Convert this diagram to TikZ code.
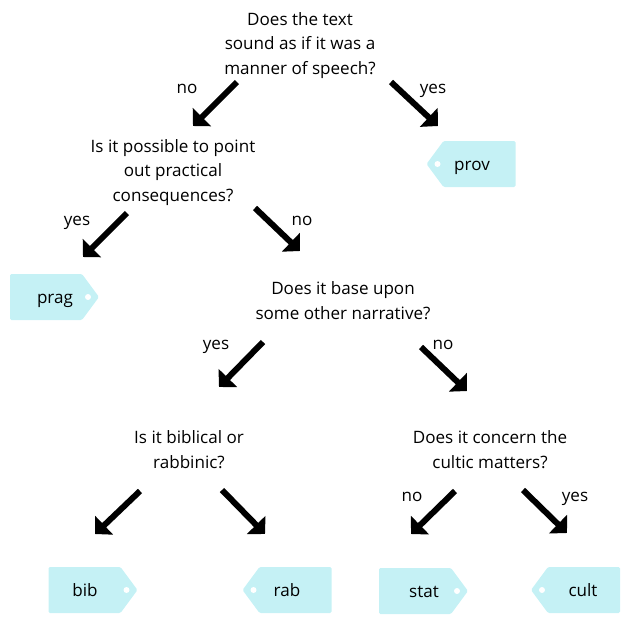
\documentclass[tikz,border=0pt]{standalone}
\usepackage{fontspec}
\setmainfont{Open Sans}
\usetikzlibrary{arrows.meta,positioning}
\definecolor{tagcyan}{RGB}{197,241,245}
\tikzset{
  question/.style={align=center,font=\fontsize{12.8}{18.4}\selectfont},
  answer/.style={anchor=base,font=\fontsize{12.8}{18.4}\selectfont},
  tagtext/.style={anchor=base,font=\fontsize{12.8}{18.4}\selectfont},
  bigarrow/.style={line width=4.5pt,-{Triangle[length=9.5pt,width=19pt]}},
  tagright/.pic={
    \fill[tagcyan,rounded corners=1pt] (-36,-23) -- (36,-23) -- (53,0) -- (36,23) -- (-36,23) -- cycle;
    \fill[white] (42,0) circle (3);
  },
  tagleft/.pic={
    \fill[tagcyan,rounded corners=1pt] (36,-23) -- (-36,-23) -- (-53,0) -- (-36,23) -- (36,23) -- cycle;
    \fill[white] (-42,0) circle (3);
  }
}
\begin{document}
\begin{tikzpicture}[x=0.75pt,y=-0.75pt]
        \useasboundingbox (0,0) rectangle (631,640);

        \node (speech)    [question] at (300,45.5)  {Does the text\\sound as if it was a\\manner of speech?};
        \node (practical) [question] at (173,172.5) {Is it possible to point\\out practical\\consequences?};
        \node (narrative) [question] at (343,300.5) {Does it base upon\\some other narrative?};
        \node (biblical)  [question] at (189,449.5) {Is it biblical or\\rabbinic?};
        \node (cultic)    [question] at (490,449.5) {Does it concern the\\cultic matters?};

        \pic at (479.5,164) {tagleft};
        \pic at (46,297)    {tagright};
        \pic at (84.5,590)  {tagright};
        \pic at (295.5,590) {tagleft};
        \pic at (415,591)   {tagright};
        \pic at (584,590)   {tagleft};

        \node (prov) [tagtext] at (472,170.5) {prov};
        \node (prag) [tagtext] at (55,303.5)  {prag};
        \node (bib)  [tagtext] at (85,596.5)  {bib};
        \node (rab)  [tagtext] at (287,596.5) {rab};
        \node (stat) [tagtext] at (424,597.5) {stat};
        \node (cult) [tagtext] at (583,596.5) {cult};

        \node (speech-no)     [answer] at (187,93)  {no};
        \node (speech-yes)    [answer] at (433,93)  {yes};
        \node (practical-yes) [answer] at (77,225)  {yes};
        \node (practical-no)  [answer] at (302,225) {no};
        \node (narrative-yes) [answer] at (216,349) {yes};
        \node (narrative-no)  [answer] at (443,349) {no};
        \node (cultic-no)     [answer] at (412,501) {no};
        \node (cultic-yes)    [answer] at (575,501) {yes};

        \coordinate (speech-l)    at (237,82);  \coordinate (speech-l')    at (193,126);
        \coordinate (speech-r)    at (391,82);  \coordinate (speech-r')    at (438,126);
        \coordinate (practical-l) at (127,213); \coordinate (practical-l') at (83,257);
        \coordinate (practical-r) at (255,208); \coordinate (practical-r') at (300,251);
        \coordinate (narrative-l) at (263,342); \coordinate (narrative-l') at (219,387);
        \coordinate (narrative-r) at (421,347); \coordinate (narrative-r') at (467,391);
        \coordinate (biblical-l)  at (140,491); \coordinate (biblical-l')  at (95,534);
        \coordinate (biblical-r)  at (222,490); \coordinate (biblical-r')  at (265,534);
        \coordinate (cultic-l)    at (455,491); \coordinate (cultic-l')    at (411,534);
        \coordinate (cultic-r)    at (523,490); \coordinate (cultic-r')    at (567,533);

        \draw [bigarrow] (speech-l) -- (speech-l');
        \draw [bigarrow] (speech-r) -- (speech-r');
        \draw [bigarrow] (practical-l) -- (practical-l');
        \draw [bigarrow] (practical-r) -- (practical-r');
        \draw [bigarrow] (narrative-l) -- (narrative-l');
        \draw [bigarrow] (narrative-r) -- (narrative-r');
        \draw [bigarrow] (biblical-l) -- (biblical-l');
        \draw [bigarrow] (biblical-r) -- (biblical-r');
        \draw [bigarrow] (cultic-l) -- (cultic-l');
        \draw [bigarrow] (cultic-r) -- (cultic-r');
      \end{tikzpicture}
\end{document}
